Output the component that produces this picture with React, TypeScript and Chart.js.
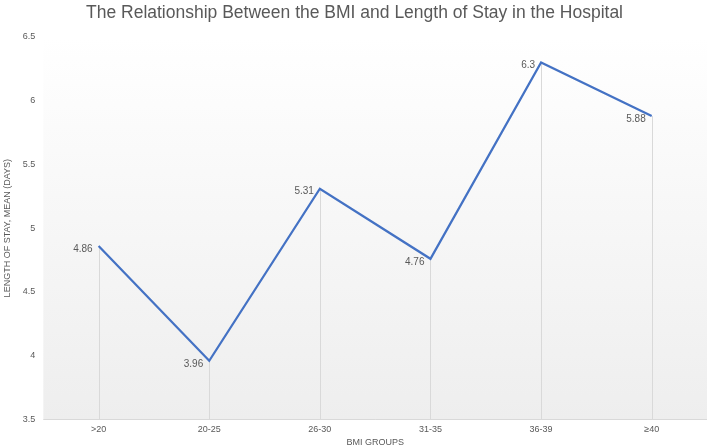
import React, { useEffect, useRef } from "react";
import { Chart, registerables } from "chart.js";

Chart.register(...registerables);

const categories = [">20", "20-25", "26-30", "31-35", "36-39", "≥40"];
const meanStay = [4.86, 3.96, 5.31, 4.76, 6.3, 5.88];
const yTicks = { min: 3.5, max: 6.5, step: 0.5 };

const FONT = "'Liberation Sans', 'Open Sans', sans-serif";
const GREY = "#595959";

const bgPlugin = {
  id: "bgGradient",
  beforeDraw(chart: any) {
    const { ctx, chartArea } = chart;
    if (!chartArea) return;
    const g = ctx.createLinearGradient(0, chartArea.top, 0, chartArea.bottom);
    g.addColorStop(0, "#ffffff");
    g.addColorStop(1, "#eeeeee");
    ctx.save();
    ctx.fillStyle = g;
    ctx.fillRect(chartArea.left, chartArea.top, chartArea.right - chartArea.left, chartArea.bottom - chartArea.top);
    ctx.restore();
  },
};

const dropPlugin = {
  id: "dropLines",
  beforeDatasetsDraw(chart: any) {
    const { ctx, chartArea } = chart;
    const meta = chart.getDatasetMeta(0);
    ctx.save();
    ctx.strokeStyle = "#d9d9d9";
    ctx.lineWidth = 1;
    meta.data.forEach((pt: any) => {
      const x = Math.round(pt.x) + 0.5;
      ctx.beginPath();
      ctx.moveTo(x, pt.y);
      ctx.lineTo(x, chartArea.bottom);
      ctx.stroke();
    });
    ctx.beginPath();
    ctx.moveTo(chartArea.left, Math.round(chartArea.bottom) + 0.5);
    ctx.lineTo(chartArea.right, Math.round(chartArea.bottom) + 0.5);
    ctx.stroke();
    ctx.restore();
  },
};

const labelPlugin = {
  id: "valueLabels",
  afterDatasetsDraw(chart: any) {
    const { ctx } = chart;
    const meta = chart.getDatasetMeta(0);
    const data = chart.data.datasets[0].data;
    ctx.save();
    ctx.font = `10px ${FONT}`;
    ctx.fillStyle = GREY;
    ctx.textAlign = "right";
    ctx.textBaseline = "middle";
    meta.data.forEach((pt: any, i: number) => {
      ctx.fillText(String(data[i]), pt.x - 6, pt.y + 3);
    });
    ctx.restore();
  },
};

export default function App() {
  const ref = useRef<HTMLCanvasElement>(null);
  useEffect(() => {
    document.body.style.margin = "0";
    const chart = new Chart(ref.current!, {
      type: "line",
      data: {
        labels: categories,
        datasets: [
          {
            data: meanStay,
            borderColor: "#4472C4",
            borderWidth: 2.25,
            pointRadius: 0,
            tension: 0,
            fill: false,
          },
        ],
      },
      options: {
        animation: false,
        responsive: false,
        maintainAspectRatio: false,
        layout: { padding: { top: 3, right: 2, left: 2, bottom: -1 } },
        plugins: {
          legend: { display: false },
          tooltip: { enabled: false },
          title: {
            display: true,
            text: "The Relationship Between the BMI and Length of Stay in the Hospital",
            color: GREY,
            font: { family: FONT, size: 17.5, weight: "normal" },
            padding: { top: 0, bottom: 13 },
          },
        },
        scales: {
          x: {
            offset: true,
            grid: { display: false, drawTicks: false },
            border: { display: false },
            ticks: { color: GREY, font: { family: FONT, size: 9 }, padding: 5, maxRotation: 0 },
            title: {
              display: true,
              text: "BMI GROUPS",
              color: GREY,
              font: { family: FONT, size: 9 },
              padding: { top: -3, bottom: 0 },
            },
          },
          y: {
            min: yTicks.min,
            max: yTicks.max,
            grid: { display: false, drawTicks: false },
            border: { display: false },
            ticks: {
              stepSize: yTicks.step,
              color: GREY,
              font: { family: FONT, size: 9 },
              padding: 8,
              callback: (v: any) => String(Number(v)),
            },
            title: {
              display: true,
              text: "LENGTH OF STAY, MEAN (DAYS)",
              color: GREY,
              font: { family: FONT, size: 9 },
              padding: { top: 0, bottom: 2 },
            },
          },
        },
      },
      plugins: [bgPlugin, dropPlugin, labelPlugin],
    });
    return () => chart.destroy();
  }, []);
  return <canvas ref={ref} width={709} height={447} style={{ display: "block" }} />;
}
